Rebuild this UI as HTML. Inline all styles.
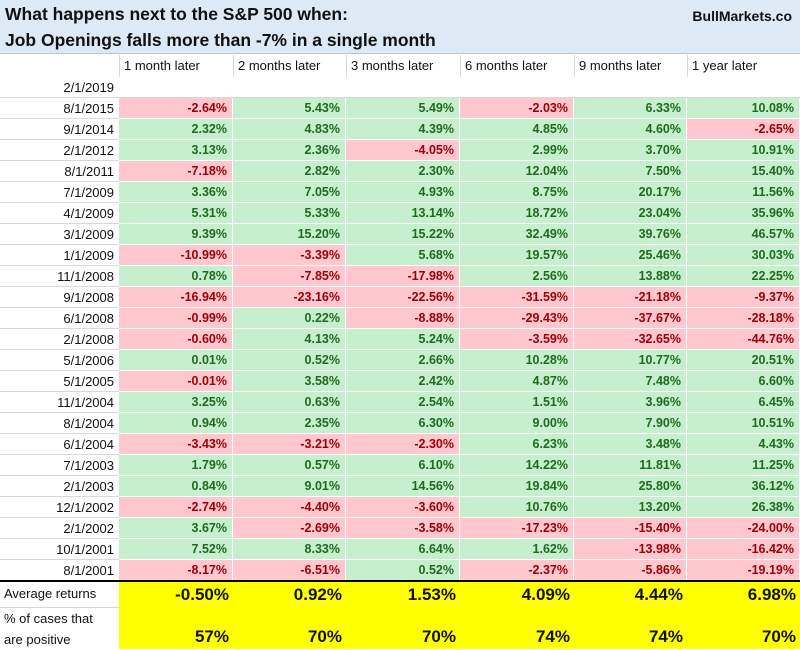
<!DOCTYPE html>
<html><head><meta charset="utf-8"><style>
body{margin:0;width:800px;height:649px;overflow:hidden;background:#fff;font-family:"Liberation Sans",Arial,sans-serif;position:relative}
.a{position:absolute;box-sizing:border-box;white-space:nowrap}
#hdr{left:0;top:0;width:800px;height:54px;background:#dde9f5;border-bottom:1px solid #b8c8d8}
.t{font-weight:bold;font-size:17.5px;color:#111;left:5px}
.c{font-size:12.5px;line-height:21px;padding-right:5px;text-align:right;font-weight:bold;border-right:1px solid #fff;border-bottom:1px solid #fff}
.g{background:#c6efce;color:#1e6b1e}.r{background:#ffc7ce;color:#9c0006}
.d{font-size:13px;line-height:21px;text-align:right;padding-right:5px;color:#111;border-bottom:1px solid #d8d8d8}
.h{font-size:13px;line-height:22px;padding-left:4px;color:#111;border-left:1px solid #d8d8d8}
.y{background:#ffff00;font-weight:bold;color:#111;font-size:17px;text-align:right;padding-right:4px}
.f{font-size:13px;color:#111;padding-left:4px}
</style></head><body>
<div class="a" id="hdr"></div>
<div class="a t" style="top:4px">What happens next to the S&amp;P 500 when:</div>
<div class="a t" style="top:30px">Job Openings falls more than -7% in a single month</div>
<div class="a" style="right:8px;top:8px;font-weight:bold;font-size:14px;color:#111">BullMarkets.co</div>
<div id="tbl"></div>
<script>
const cols=["1 month later","2 months later","3 months later","6 months later","9 months later","1 year later"];
const dates=["2/1/2019","8/1/2015","9/1/2014","2/1/2012","8/1/2011","7/1/2009","4/1/2009","3/1/2009","1/1/2009","11/1/2008","9/1/2008","6/1/2008","2/1/2008","5/1/2006","5/1/2005","11/1/2004","8/1/2004","6/1/2004","7/1/2003","2/1/2003","12/1/2002","2/1/2002","10/1/2001","8/1/2001"];
const m1=[null,-2.64,2.32,3.13,-7.18,3.36,5.31,9.39,-10.99,0.78,-16.94,-0.99,-0.60,0.01,-0.01,3.25,0.94,-3.43,1.79,0.84,-2.74,3.67,7.52,-8.17];
const m2=[null,5.43,4.83,2.36,2.82,7.05,5.33,15.20,-3.39,-7.85,-23.16,0.22,4.13,0.52,3.58,0.63,2.35,-3.21,0.57,9.01,-4.40,-2.69,8.33,-6.51];
const m3=[null,5.49,4.39,-4.05,2.30,4.93,13.14,15.22,5.68,-17.98,-22.56,-8.88,5.24,2.66,2.42,2.54,6.30,-2.30,6.10,14.56,-3.60,-3.58,6.64,0.52];
const m6=[null,-2.03,4.85,2.99,12.04,8.75,18.72,32.49,19.57,2.56,-31.59,-29.43,-3.59,10.28,4.87,1.51,9.00,6.23,14.22,19.84,10.76,-17.23,1.62,-2.37];
const m9=[null,6.33,4.60,3.70,7.50,20.17,23.04,39.76,25.46,13.88,-21.18,-37.67,-32.65,10.77,7.48,3.96,7.90,3.48,11.81,25.80,13.20,-15.40,-13.98,-5.86];
const y1=[null,10.08,-2.65,10.91,15.40,11.56,35.96,46.57,30.03,22.25,-9.37,-28.18,-44.76,20.51,6.60,6.45,10.51,4.43,11.25,36.12,26.38,-24.00,-16.42,-19.19];
const avg=["-0.50%","0.92%","1.53%","4.09%","4.44%","6.98%"];
const pos=["57%","70%","70%","74%","74%","70%"];
const series=[m1,m2,m3,m6,m9,y1];
const xs=[0,119,233,346,460,574,687,800];
const T=document.getElementById('tbl');
function mk(cls,x,y,w,h,txt){const e=document.createElement('div');e.className='a '+cls;e.style.left=x+'px';e.style.top=y+'px';e.style.width=w+'px';e.style.height=h+'px';e.textContent=txt;T.appendChild(e);return e;}
const top0=55,rh=21;
cols.forEach((c,j)=>{const e=mk('h',xs[j+1],top0,xs[j+2]-xs[j+1],22,c);

});
dates.forEach((d,i)=>{const y=top0+22+rh*i;
const e=mk('d',0,y,119,rh,d);


series.forEach((s,j)=>{const v=s[i];const cls=v==null?'d':'c '+(v<0?'r':'g');
const c=mk(cls,xs[j+1],y,xs[j+2]-xs[j+1],rh,v==null?'':v.toFixed(2)+'%');

});});
const fy=top0+22+rh*24;
const yb=mk('y',119,fy+1,681,649-fy-1,'');


const ln=document.createElement('div');ln.className='a';ln.style.cssText='left:0;top:'+(fy-1)+'px;width:800px;height:2px;background:#000';


T.appendChild(ln);
const l1=mk('f',0,fy+1,119,24,'Average returns');l1.style.lineHeight='24px';


const l2=mk('f',0,fy+26,119,42,'');l2.innerHTML='% of cases that<br>are positive';l2.style.lineHeight='21px';l2.style.borderTop='1px solid #d8d8d8';


avg.forEach((a,j)=>{const e=mk('y',xs[j+1],fy+1,xs[j+2]-xs[j+1],25,a);e.style.lineHeight='25px';

});
pos.forEach((a,j)=>{const e=mk('y',xs[j+1],fy+44,xs[j+2]-xs[j+1],24,a);e.style.lineHeight='24px';

});
</script>
</body></html>
